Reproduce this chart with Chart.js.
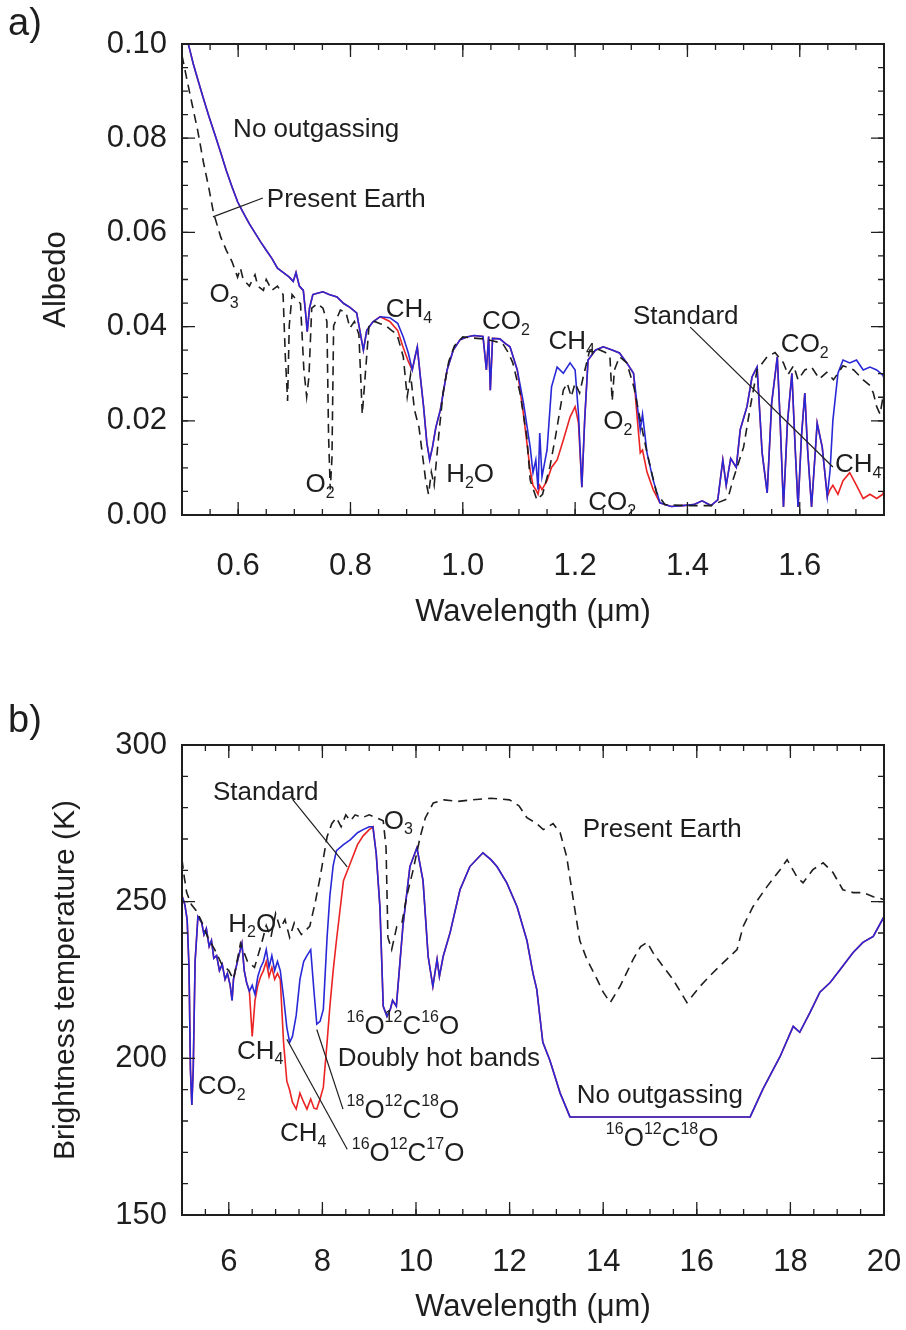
<!DOCTYPE html>
<html>
<head>
<meta charset="utf-8">
<title>Albedo and brightness temperature spectra</title>
<script src="https://cdn.jsdelivr.net/npm/chart.js@4.4.0/dist/chart.umd.min.js"></script>
<style>
  body { margin: 0; background: #fff; }
  canvas { display: block; }
</style>
</head>
<body>
<canvas id="panelA" width="906" height="665"></canvas>
<canvas id="panelB" width="906" height="665"></canvas>
<script>
/* ---------- panel a) : albedo vs wavelength (um) ---------- */

// No outgassing (blue) - Standard (red) uses the same wavelength grid
const wlNoOutA = [
  0.500,0.508,0.514,0.520,0.528,0.538,0.548,0.559,0.569,0.579,
  0.589,0.599,0.609,0.620,0.630,0.640,0.650,0.660,0.670,0.680,
  0.691,0.698,0.703,0.709,0.716,0.720,0.723,0.727,0.733,0.741,
  0.751,0.762,0.776,0.788,0.799,0.811,0.818,0.823,0.829,0.840,
  0.853,0.870,0.884,0.894,0.903,0.910,0.915,0.919,0.924,0.930,
  0.936,0.941,0.946,0.952,0.960,0.972,0.983,0.995,1.007,1.020,
  1.036,1.042,1.046,1.049,1.053,1.066,1.076,1.084,1.097,1.108,
  1.120,1.125,1.130,1.134,1.137,1.141,1.150,1.158,1.168,1.179,
  1.191,1.200,1.206,1.212,1.217,1.223,1.236,1.250,1.267,1.279,
  1.292,1.304,1.310,1.316,1.320,1.328,1.339,1.351,1.371,1.391,
  1.411,1.426,1.442,1.454,1.463,1.469,1.477,1.487,1.494,1.506,
  1.515,1.524,1.533,1.542,1.550,1.560,1.565,1.571,1.578,1.586,
  1.592,1.597,1.603,1.609,1.614,1.621,1.631,1.640,1.649,1.654,
  1.659,1.668,1.677,1.689,1.701,1.713,1.725,1.737,1.748,1.750];
const albNoOutA = [
  0.106,0.1015,0.0987,0.0958,0.0925,0.0885,0.0846,0.0806,0.0769,0.0731,
  0.0697,0.0665,0.0642,0.0618,0.0599,0.0580,0.0562,0.0545,0.0524,0.0515,
  0.0505,0.0496,0.0515,0.0486,0.0477,0.0430,0.0389,0.0439,0.0468,0.0471,
  0.0474,0.0468,0.0463,0.0449,0.0441,0.0429,0.0383,0.0350,0.0392,0.0410,
  0.0421,0.0419,0.0407,0.0378,0.0344,0.0308,0.0336,0.0357,0.0298,0.0232,
  0.0153,0.0117,0.0144,0.0186,0.0223,0.0308,0.0350,0.0372,0.0378,0.0381,
  0.0379,0.0308,0.0379,0.0265,0.0375,0.0374,0.0364,0.0357,0.0308,0.0238,
  0.0144,0.0090,0.0117,0.0054,0.0174,0.0081,0.0138,0.0272,0.0314,0.0301,
  0.0323,0.0308,0.0214,0.0059,0.0201,0.0329,0.0350,0.0357,0.0350,0.0344,
  0.0323,0.0301,0.0238,0.0181,0.0214,0.0132,0.0074,0.0026,0.0018,0.0020,
  0.0022,0.0030,0.0020,0.0032,0.0117,0.0063,0.0120,0.0101,0.0181,0.0230,
  0.0293,0.0314,0.0132,0.0047,0.0238,0.0336,0.0201,0.0017,0.0195,0.0301,
  0.0138,0.0017,0.0167,0.0259,0.0138,0.0017,0.0195,0.0144,0.0039,0.0095,
  0.0201,0.0301,0.0329,0.0323,0.0329,0.0308,0.0314,0.0308,0.0297,0.0290];
const albStandardA = [
  0.106,0.1015,0.0987,0.0958,0.0925,0.0885,0.0846,0.0806,0.0769,0.0731,
  0.0697,0.0665,0.0642,0.0618,0.0599,0.0580,0.0562,0.0545,0.0524,0.0515,
  0.0505,0.0496,0.0515,0.0486,0.0477,0.0430,0.0389,0.0439,0.0468,0.0471,
  0.0474,0.0468,0.0463,0.0449,0.0441,0.0429,0.0383,0.0350,0.0392,0.0410,
  0.0421,0.0411,0.0392,0.0355,0.0326,0.0308,0.0336,0.0357,0.0298,0.0232,
  0.0153,0.0117,0.0144,0.0186,0.0223,0.0308,0.0350,0.0372,0.0378,0.0381,
  0.0379,0.0308,0.0379,0.0265,0.0375,0.0374,0.0364,0.0357,0.0308,0.0214,
  0.0095,0.0063,0.0054,0.0044,0.0063,0.0054,0.0073,0.0101,0.0117,0.0159,
  0.0208,0.0230,0.0195,0.0059,0.0201,0.0329,0.0350,0.0357,0.0350,0.0344,
  0.0323,0.0301,0.0214,0.0132,0.0138,0.0091,0.0054,0.0026,0.0018,0.0020,
  0.0022,0.0030,0.0020,0.0032,0.0117,0.0063,0.0120,0.0101,0.0181,0.0230,
  0.0293,0.0314,0.0132,0.0047,0.0238,0.0336,0.0201,0.0017,0.0195,0.0301,
  0.0138,0.0017,0.0167,0.0259,0.0138,0.0017,0.0195,0.0144,0.0039,0.0054,
  0.0063,0.0044,0.0073,0.0090,0.0063,0.0035,0.0044,0.0035,0.0044,0.0054];

// Present Earth (black dashed)
const wlPresentA = [
  0.500,0.508,0.518,0.528,0.538,0.548,0.556,0.569,0.579,0.589,
  0.599,0.604,0.609,0.620,0.630,0.635,0.645,0.650,0.660,0.670,
  0.680,0.684,0.688,0.691,0.696,0.703,0.711,0.717,0.722,0.726,
  0.731,0.741,0.751,0.758,0.761,0.764,0.767,0.770,0.782,0.792,
  0.799,0.807,0.815,0.821,0.827,0.833,0.843,0.853,0.863,0.873,
  0.883,0.894,0.901,0.907,0.914,0.922,0.929,0.934,0.939,0.944,
  0.949,0.957,0.965,0.975,0.985,1.000,1.015,1.036,1.056,1.071,
  1.081,1.089,1.102,1.114,1.120,1.132,1.142,1.155,1.165,1.173,
  1.179,1.186,1.193,1.200,1.208,1.216,1.226,1.239,1.254,1.262,
  1.266,1.270,1.279,1.292,1.305,1.316,1.328,1.345,1.360,1.401,
  1.442,1.472,1.481,1.500,1.512,1.524,1.542,1.556,1.571,1.579,
  1.589,1.597,1.609,1.621,1.635,1.648,1.660,1.677,1.696,1.713,
  1.725,1.731,1.737,1.743,1.747,1.750];
const albPresentA = [
  0.0976,0.0929,0.0872,0.0816,0.0750,0.0693,0.0642,0.0590,0.0562,0.0538,
  0.0505,0.0524,0.0500,0.0486,0.0510,0.0486,0.0477,0.0500,0.0477,0.0486,
  0.0468,0.0336,0.0242,0.0402,0.0468,0.0458,0.0449,0.0308,0.0251,0.0293,
  0.0439,0.0449,0.0439,0.0411,0.0167,0.0054,0.0120,0.0402,0.0435,0.0430,
  0.0397,0.0411,0.0383,0.0214,0.0308,0.0402,0.0411,0.0406,0.0402,0.0392,
  0.0383,0.0336,0.0251,0.0298,0.0223,0.0186,0.0120,0.0073,0.0044,0.0091,
  0.0063,0.0167,0.0261,0.0326,0.0359,0.0378,0.0376,0.0374,0.0369,0.0364,
  0.0345,0.0323,0.0259,0.0166,0.0074,0.0032,0.0044,0.0102,0.0166,0.0223,
  0.0265,0.0280,0.0251,0.0280,0.0259,0.0301,0.0350,0.0353,0.0345,0.0336,
  0.0242,0.0308,0.0336,0.0323,0.0270,0.0201,0.0132,0.0047,0.0022,0.0020,
  0.0020,0.0035,0.0074,0.0144,0.0230,0.0308,0.0336,0.0345,0.0323,0.0298,
  0.0317,0.0287,0.0308,0.0314,0.0289,0.0303,0.0287,0.0317,0.0308,0.0287,
  0.0275,0.0259,0.0230,0.0214,0.0242,0.0232];

const ticksXA = [0.6, 0.8, 1.0, 1.2, 1.4, 1.6];
const ticksYA = [0.00, 0.02, 0.04, 0.06, 0.08, 0.10];

/* ---------- panel b) : brightness temperature (K) vs wavelength (um) ---------- */

const wlNoOutB = [
  5.00,5.06,5.11,5.15,5.18,5.21,5.24,5.28,5.34,5.38,
  5.42,5.47,5.52,5.58,5.63,5.68,5.74,5.80,5.86,5.92,
  5.97,6.03,6.07,6.10,6.14,6.20,6.28,6.33,6.38,6.44,
  6.50,6.56,6.62,6.68,6.74,6.80,6.86,6.92,6.98,7.04,
  7.10,7.17,7.24,7.30,7.36,7.44,7.52,7.60,7.67,7.75,
  7.82,7.88,7.95,8.02,8.10,8.16,8.23,8.30,8.45,8.60,
  8.75,8.87,9.00,9.08,9.15,9.23,9.30,9.38,9.45,9.50,
  9.58,9.72,9.87,10.02,10.15,10.26,10.36,10.45,10.50,10.58,
  10.73,10.94,11.15,11.43,11.60,11.73,11.94,12.16,12.37,12.50,
  12.58,12.71,12.86,13.08,13.29,17.14,17.41,17.78,18.06,18.20,
  18.42,18.63,18.85,19.06,19.34,19.55,19.77,20.00];
const tbNoOutB = [
  251.9,249.1,244.3,229.0,196.5,185.1,196.5,230.9,245.2,244.3,
  243.3,239.5,241.4,235.7,237.6,231.9,232.8,228.0,230.0,225.2,
  227.1,223.3,218.5,225.2,228.0,231.9,236.7,228.0,224.2,221.4,
  223.3,220.4,226.1,229.0,230.9,234.7,229.0,232.8,228.0,230.9,
  228.0,219.5,209.9,205.1,207.0,213.7,225.2,230.9,232.8,234.7,
  221.4,210.9,211.8,215.6,238.6,251.9,261.5,266.3,268.2,269.8,
  272.0,273.0,273.9,273.9,265.3,248.1,216.6,213.4,215.6,218.5,
  216.6,242.1,261.2,267.2,256.7,232.5,223.0,231.6,226.1,232.5,
  240.2,253.8,261.2,265.6,263.4,261.2,256.0,248.4,237.6,227.1,
  222.0,205.1,199.4,188.9,181.3,181.3,190.1,200.6,210.2,208.3,
  214.7,221.1,224.2,228.3,233.8,237.0,238.9,245.2];
const tbStandardB = [
  251.9,249.1,244.3,229.0,196.5,185.1,196.5,230.9,245.2,244.3,
  243.3,239.5,241.4,235.7,237.6,231.9,232.8,228.0,230.0,225.2,
  227.1,223.3,218.5,225.2,228.0,231.9,236.7,228.0,224.2,221.4,
  207.0,218.5,223.3,226.1,228.0,230.9,226.1,229.0,225.2,227.1,
  225.2,205.1,192.7,189.9,186.0,183.8,188.9,186.0,183.8,187.0,
  184.1,183.8,187.0,190.8,205.1,216.6,228.0,237.6,256.7,262.4,
  268.2,271.0,273.0,273.9,265.3,248.1,216.6,213.4,215.6,218.5,
  216.6,242.1,261.2,267.2,256.7,232.5,223.0,231.6,226.1,232.5,
  240.2,253.8,261.2,265.6,263.4,261.2,256.0,248.4,237.6,227.1,
  222.0,205.1,199.4,188.9,181.3,181.3,190.1,200.6,210.2,208.3,
  214.7,221.1,224.2,228.3,233.8,237.0,238.9,245.2];

const wlPresentB = [
  5.00,5.05,5.10,5.20,5.30,5.40,5.55,5.70,5.85,6.00,
  6.10,6.25,6.40,6.55,6.70,6.80,6.90,7.00,7.10,7.20,
  7.30,7.40,7.55,7.73,7.85,7.95,8.10,8.20,8.30,8.40,
  8.50,8.60,8.70,8.85,9.00,9.15,9.30,9.36,9.40,9.48,
  9.59,9.70,9.80,9.94,10.09,10.20,10.37,10.60,10.90,11.20,
  11.60,12.00,12.20,12.37,12.58,12.72,12.93,13.08,13.22,13.36,
  13.50,13.65,13.87,14.00,14.15,14.36,14.64,14.80,14.94,15.06,
  15.28,15.49,15.79,16.07,16.35,16.64,16.86,16.99,17.20,17.50,
  17.78,17.93,18.14,18.27,18.48,18.70,18.91,19.12,19.34,19.55,
  19.77,20.00];
const tbPresentB = [
  263.4,257.7,252.9,249.1,247.2,244.3,238.6,234.7,230.0,228.0,
  225.2,236.7,230.9,229.0,236.7,242.4,238.6,246.2,241.4,244.3,
  238.6,243.3,239.5,242.1,250.0,257.7,270.7,274.9,276.8,273.9,
  277.7,275.8,277.7,276.8,277.7,276.8,275.8,267.2,238.6,234.7,
  242.1,243.3,251.6,260.2,270.7,276.8,281.5,282.5,282.0,282.5,
  283.0,282.5,280.6,276.8,274.9,273.0,274.9,272.0,264.3,250.7,
  237.6,231.6,225.2,221.1,217.8,223.0,231.6,235.7,237.0,233.8,
  229.3,225.2,217.8,223.0,227.4,231.6,234.7,242.1,248.4,254.8,
  260.2,263.4,257.9,256.0,260.2,262.4,259.3,253.8,252.9,252.9,
  251.6,250.7];

const ticksXB = [6, 8, 10, 12, 14, 16, 18, 20];
const ticksYB = [150, 200, 250, 300];

/* ---------- annotations (data coordinates) ---------- */
// "_" = subscript, "^" = superscript
const notesA = [
  {t: 'No outgassing', x: 0.739, y: 0.0817},
  {t: 'Present Earth', x: 0.651, y: 0.0669, align: 'left'},
  {t: 'O_3', x: 0.575, y: 0.0467},
  {t: 'O_2', x: 0.746, y: 0.0064},
  {t: 'CH_4', x: 0.904, y: 0.0435},
  {t: 'H_2O', x: 1.013, y: 0.0085},
  {t: 'CO_2', x: 1.077, y: 0.0410},
  {t: 'CH_4', x: 1.194, y: 0.0367},
  {t: 'O_2', x: 1.276, y: 0.0197},
  {t: 'CO_2', x: 1.266, y: 0.0025},
  {t: 'Standard', x: 1.397, y: 0.0420},
  {t: 'CO_2', x: 1.609, y: 0.0361},
  {t: 'CH_4', x: 1.704, y: 0.0106}
];
const leadersA = [[0.644, 0.0673, 0.555, 0.0633], [1.405, 0.0399, 1.659, 0.0102]];

const notesB = [
  {t: 'Standard', x: 6.79, y: 284.7},
  {t: 'O_3', x: 9.62, y: 275.5},
  {t: 'H_2O', x: 6.50, y: 242.7},
  {t: 'CH_4', x: 6.67, y: 202.2},
  {t: 'CO_2', x: 5.85, y: 190.8},
  {t: 'CH_4', x: 7.59, y: 175.8},
  {t: '^{16}O^{12}C^{16}O', x: 9.72, y: 209.9},
  {t: 'Doubly hot bands', x: 10.49, y: 199.7},
  {t: '^{18}O^{12}C^{18}O', x: 9.72, y: 183.1},
  {t: '^{16}O^{12}C^{17}O', x: 9.83, y: 169.4},
  {t: 'Present Earth', x: 15.26, y: 272.9},
  {t: 'No outgassing', x: 15.21, y: 187.9},
  {t: '^{16}O^{12}C^{18}O', x: 15.26, y: 174.2}
];
const leadersB = [[7.37, 282.5, 8.53, 261.1], [7.24, 206.1, 8.53, 171.0], [7.88, 209.2, 8.44, 183.8]];

/************************************/
const FONT = '"Liberation Sans", Arial, Helvetica, sans-serif';
const INK = '#1e1e1e';

const pts = (xs, ys) => xs.map((x, i) => ({x: x, y: ys[i]}));

// text with sub/superscripts (chemical formulas)
function drawRich(ctx, str, x, y, size, align) {
  const parts = [];
  let i = 0;
  while (i < str.length) {
    const c = str[i];
    if (c === '_' || c === '^') {
      let t;
      if (str[i + 1] === '{') { const j = str.indexOf('}', i); t = str.slice(i + 2, j); i = j + 1; }
      else { t = str[i + 1]; i += 2; }
      parts.push({t: t, kind: c});
    } else {
      let j = i;
      while (j < str.length && str[j] !== '_' && str[j] !== '^') j++;
      parts.push({t: str.slice(i, j), kind: ''});
      i = j;
    }
  }
  const big = size + 'px ' + FONT, small = Math.round(size * 0.62) + 'px ' + FONT;
  let w = 0;
  parts.forEach(p => { ctx.font = p.kind ? small : big; p.w = ctx.measureText(p.t).width; w += p.w; });
  let cx = align === 'left' ? x : x - w / 2;
  ctx.textAlign = 'left';
  ctx.textBaseline = 'middle';
  parts.forEach(p => {
    ctx.font = p.kind ? small : big;
    const dy = p.kind === '_' ? size * 0.32 : (p.kind === '^' ? -size * 0.36 : 0);
    ctx.fillText(p.t, cx, y + dy);
    cx += p.w;
  });
}

// box around the plot + inward ticks on all four sides (IDL style)
const boxTicks = {
  id: 'boxTicks',
  afterDatasetsDraw(chart, args, o) {
    const ctx = chart.ctx, a = chart.chartArea;
    const sx = chart.scales.x, sy = chart.scales.y;
    ctx.save();
    ctx.strokeStyle = INK;
    ctx.lineWidth = 1.3;
    const mark = (p, len, horiz) => {
      ctx.beginPath();
      if (horiz) {
        ctx.moveTo(p, a.bottom); ctx.lineTo(p, a.bottom - len);
        ctx.moveTo(p, a.top); ctx.lineTo(p, a.top + len);
      } else {
        ctx.moveTo(a.left, p); ctx.lineTo(a.left + len, p);
        ctx.moveTo(a.right, p); ctx.lineTo(a.right - len, p);
      }
      ctx.stroke();
    };
    const minor = (scale, step, horiz) => {
      const n0 = Math.ceil(scale.min / step - 1e-6), n1 = Math.floor(scale.max / step + 1e-6);
      for (let n = n0; n <= n1; n++) mark(scale.getPixelForValue(n * step), 6, horiz);
    };
    minor(sx, o.minorX, true);
    minor(sy, o.minorY, false);
    o.majorX.forEach(v => mark(sx.getPixelForValue(v), 13, true));
    o.majorY.forEach(v => mark(sy.getPixelForValue(v), 13, false));
    ctx.lineWidth = 2;
    ctx.strokeRect(a.left, a.top, a.right - a.left, a.bottom - a.top);
    ctx.restore();
  }
};

const notes = {
  id: 'notes',
  afterDatasetsDraw(chart, args, o) {
    const ctx = chart.ctx, sx = chart.scales.x, sy = chart.scales.y;
    ctx.save();
    ctx.strokeStyle = INK;
    ctx.lineWidth = 1.2;
    o.leaders.forEach(l => {
      ctx.beginPath();
      ctx.moveTo(sx.getPixelForValue(l[0]), sy.getPixelForValue(l[1]));
      ctx.lineTo(sx.getPixelForValue(l[2]), sy.getPixelForValue(l[3]));
      ctx.stroke();
    });
    ctx.fillStyle = INK;
    o.items.forEach(it => drawRich(ctx, it.t, sx.getPixelForValue(it.x), sy.getPixelForValue(it.y), 26, it.align || 'center'));
    // panel letter
    ctx.font = '38px ' + FONT;
    ctx.textAlign = 'left';
    ctx.textBaseline = 'middle';
    ctx.fillText(o.panel, 8, o.panelY);
    ctx.restore();
  }
};

function lineSets(wlBlue, blue, red, wlDash, dash) {
  return [
    {label: 'Present Earth', data: pts(wlDash, dash), borderColor: INK, borderDash: [9, 6], borderWidth: 1.6},
    {label: 'No outgassing', data: pts(wlBlue, blue), borderColor: 'rgb(40,40,215)', borderWidth: 1.6},
    {label: 'Standard', data: pts(wlBlue, red), borderColor: 'rgb(235,35,35)', borderWidth: 1.6}
  ];
}

function axis(min, max, tickList, digits, fitKey, fitSize, tickPad, title, titleSize, titlePad) {
  return {
    type: 'linear', min: min, max: max,
    grid: {display: false, drawTicks: false},
    border: {display: false},
    afterBuildTicks: s => { s.ticks = tickList.map(v => ({value: v})); },
    afterFit: s => {
      s[fitKey] = fitSize;
      // keep the edge labels (e.g. "20") from shrinking the plot box
      s.paddingLeft = 0; s.paddingRight = 0;
    },
    ticks: {
      padding: tickPad, color: INK, autoSkip: false, maxRotation: 0,
      font: {family: FONT, size: 31},
      callback: v => Number(v).toFixed(digits)
    },
    title: {display: true, text: title, color: INK, font: {family: FONT, size: titleSize}, padding: titlePad}
  };
}

function makePanel(id, sets, sc, pad, extra) {
  return new Chart(document.getElementById(id), {
    type: 'line',
    data: {datasets: sets.map(d => Object.assign(d, {pointRadius: 0, tension: 0, fill: false}))},
    options: {
      responsive: false,
      animation: false,
      events: [],
      layout: {padding: pad},
      plugins: {legend: {display: false}, tooltip: {enabled: false}, boxTicks: extra.box, notes: extra.notes},
      scales: sc
    },
    plugins: [boxTicks, notes]
  });
}

// panel a)
makePanel('panelA',
  lineSets(wlNoOutA, albNoOutA, albStandardA, wlPresentA, albPresentA),
  {
    x: axis(0.5, 1.75, ticksXA, 1, 'height', 150, 33, 'Wavelength (μm)', 31, {top: 0, bottom: 34}),
    y: axis(0, 0.10, ticksYA, 2, 'width', 182, 15, 'Albedo', 31, {top: 38, bottom: 0})
  },
  {left: 0, right: 22, top: 44, bottom: 0},
  {
    box: {minorX: 0.05, minorY: 0.005, majorX: ticksXA, majorY: ticksYA},
    notes: {items: notesA, leaders: leadersA, panel: 'a)', panelY: 25}
  });

// panel b)
makePanel('panelB',
  lineSets(wlNoOutB, tbNoOutB, tbStandardB, wlPresentB, tbPresentB),
  {
    x: axis(5, 20, ticksXB, 0, 'height', 115, 29, 'Wavelength (μm)', 31, {top: 0, bottom: 4}),
    y: axis(150, 300, ticksYB, 0, 'width', 182, 15, 'Brightness temperature (K)', 30, {top: 48, bottom: 0})
  },
  {left: 0, right: 22, top: 80, bottom: 0},
  {
    box: {minorX: 0.5, minorY: 10, majorX: ticksXB, majorY: ticksYB},
    notes: {items: notesB, leaders: leadersB, panel: 'b)', panelY: 57}
  });
</script>
</body>
</html>
